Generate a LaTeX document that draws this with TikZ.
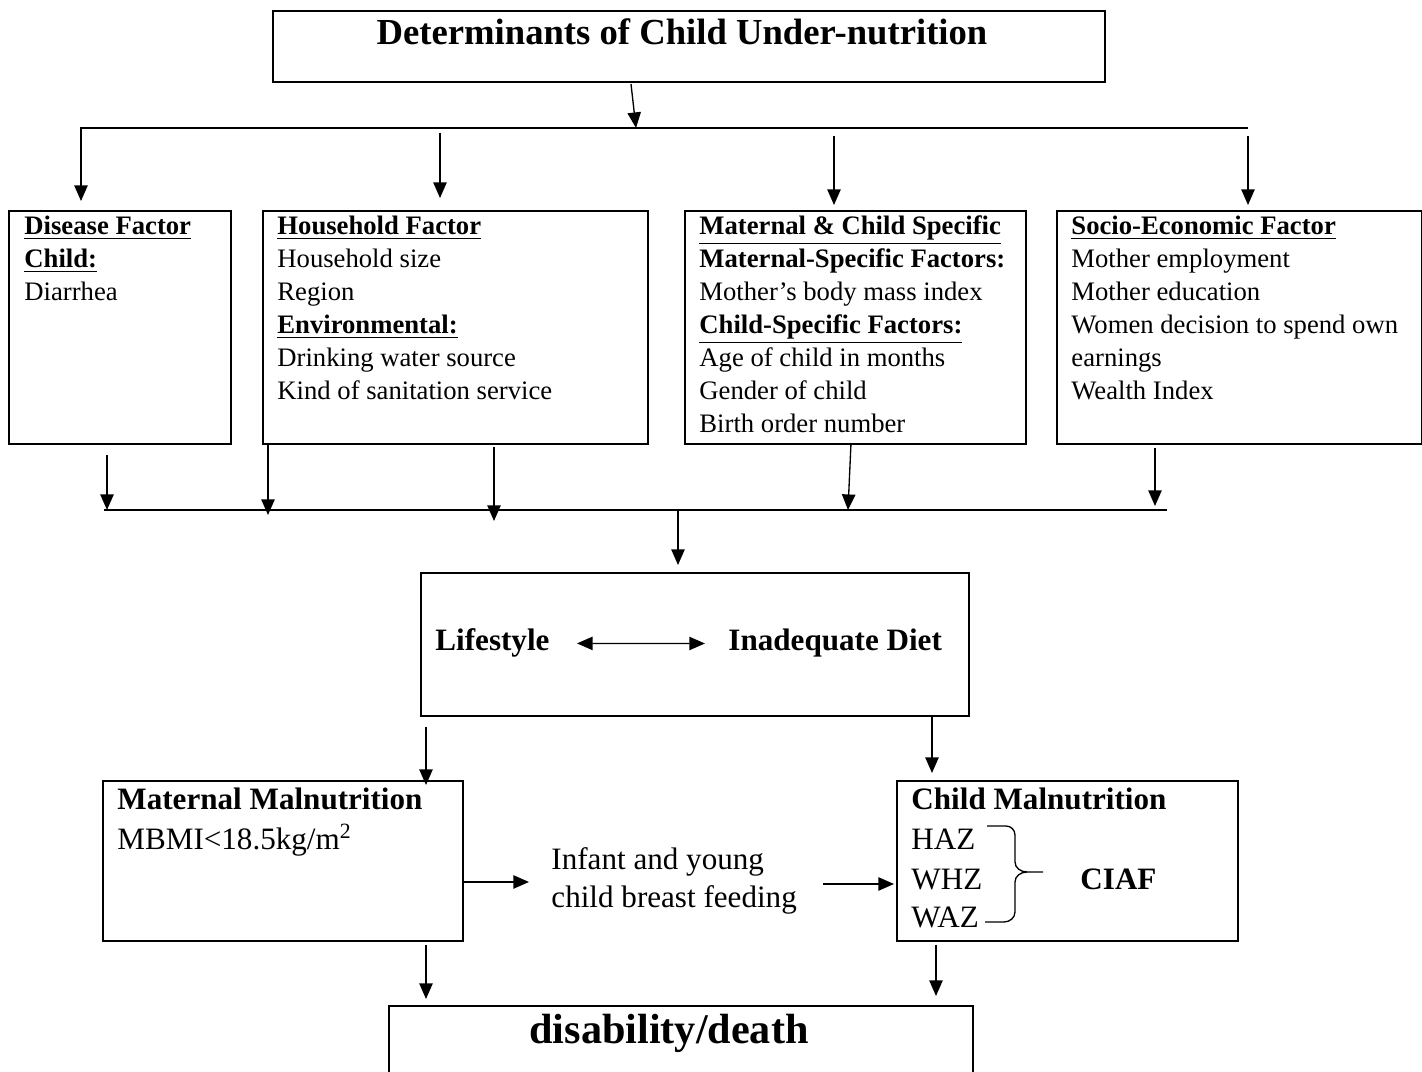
\documentclass[tikz,border=0pt]{standalone}
\usepackage{fontspec}
\setmainfont{Liberation Serif}
\usetikzlibrary{arrows.meta}
\begin{document}
\begin{tikzpicture}[x=0.45pt,y=-0.45pt,
  box/.style={draw, line width=0.9pt, inner sep=0pt, anchor=north west},
  sz/.style 2 args={minimum width=#1*0.45pt, minimum height=#2*0.45pt},
  arr/.style={-{Triangle[length=7pt,width=6pt]}, line width=0.6pt},
  dbl/.style={{Triangle[length=7pt,width=6pt]}-{Triangle[length=7pt,width=6pt]}, line width=0.6pt},
  ln/.style={line width=0.6pt},
  txt/.style={inner sep=0pt, anchor=base west, align=left, font=\fontsize{12}{14.85}\selectfont},
  hd/.style={inner sep=0pt, anchor=base west, font=\bfseries\fontsize{14}{17}\selectfont},
  rg/.style={inner sep=0pt, anchor=base west, align=left, font=\fontsize{14}{17.1}\selectfont},
  ]
\clip (0,0) rectangle (1422,1072);

% ---------- boxes ----------
\node[box, sz={832}{71}]  (title) at (272,10) {};
\node[box, sz={222}{233}] (dis)   at (8,210) {};
\node[box, sz={385}{233}] (hh)    at (262,210) {};
\node[box, sz={341}{233}] (mc)    at (684,210) {};
\node[box, sz={365}{233}] (se)    at (1056,210) {};
\node[box, sz={548}{143}] (life)  at (420,572) {};
\node[box, sz={360}{160}] (mm)    at (102,780) {};
\node[box, sz={341}{160}] (cm)    at (896,780) {};
\node[box, sz={584}{100}] (dd)    at (388,1005) {};

% ---------- texts (multi-line nodes anchored at the baseline of their last line) ----------
\node[inner sep=0pt, anchor=base, font=\bfseries\fontsize{16.5}{20}\selectfont] (titlet) at (682,45) {Determinants of Child Under-nutrition};

\node[txt] (dist) at (24,301) {\underline{\textbf{Disease Factor}}\\ \underline{\textbf{Child:}}\\ Diarrhea};
\node[txt] (hht) at (277,400) {\underline{\textbf{Household Factor}}\\ Household size\\ Region\\ \underline{\textbf{Environmental:}}\\ Drinking water source\\ Kind of sanitation service};
\node[txt] (mct) at (699,433) {\underline{\textbf{Maternal \& Child Specific}}\\ \textbf{Maternal-Specific Factors:}\\ Mother’s body mass index\\ \underline{\textbf{Child-Specific Factors:}}\\ Age of child in months\\ Gender of child\\ Birth order number};
\node[txt] (set) at (1071,400) {\underline{\textbf{Socio-Economic Factor}}\\ Mother employment\\ Mother education\\ Women decision to spend own\\ earnings\\ Wealth Index};

\node[hd] (ls) at (435,651) {Lifestyle};
\node[hd] (id) at (728,651) {Inadequate Diet};

\node[hd] (mmt) at (117,810) {Maternal Malnutrition};
\node[rg] (mmb) at (117,850) {MBMI<18.5kg/m\textsuperscript{2}};

\node[rg] (ibf) at (551,908) {Infant and young\\child breast feeding};

\node[hd] (cmt) at (911,810) {Child Malnutrition};
\node[rg] (haz) at (911,850) {HAZ};
\node[rg] (whz) at (911,890) {WHZ};
\node[rg] (waz) at (911,928) {WAZ};
\node[hd] (ciaf) at (1080,890) {CIAF};

\node[inner sep=0pt, anchor=base, font=\bfseries\fontsize{19}{22}\selectfont] (ddt) at (669,1044) {disability/death};

% ---------- connector coordinates ----------
\coordinate (t0) at (631,84);
\coordinate (t1) at (636,128);
\coordinate (busTL) at (80,128);
\coordinate (busTR) at (1248,128);
\coordinate (d1s) at (81,128);   \coordinate (d1e) at (81,201);
\coordinate (d2s) at (440,133);  \coordinate (d2e) at (440,198);
\coordinate (d3s) at (834,136);  \coordinate (d3e) at (834,205);
\coordinate (d4s) at (1248,136); \coordinate (d4e) at (1248,205);

\coordinate (u1s) at (107,455);  \coordinate (u1e) at (107,510);
\coordinate (u2s) at (268,443);  \coordinate (u2e) at (268,515);
\coordinate (u3s) at (494,447);  \coordinate (u3e) at (494,521);
\coordinate (u4s) at (851,443);  \coordinate (u4e) at (848,510);
\coordinate (u5s) at (1155,448); \coordinate (u5e) at (1155,506);
\coordinate (busBL) at (104,510);
\coordinate (busBR) at (1167,510);
\coordinate (m0) at (678,511);   \coordinate (m1) at (678,565);

\coordinate (l1s) at (426,727);  \coordinate (l1e) at (426,785);
\coordinate (l2s) at (932,715);  \coordinate (l2e) at (932,773);
\coordinate (h1s) at (463,882);  \coordinate (h1e) at (529,882);
\coordinate (h2s) at (823,884);  \coordinate (h2e) at (894,884);
\coordinate (b1s) at (426,945);  \coordinate (b1e) at (426,999);
\coordinate (b2s) at (936,945);  \coordinate (b2e) at (936,996);

% ---------- connectors ----------
\draw[arr] (t0) -- (t1);
\draw[ln] (busTL) -- (busTR);
\draw[arr] (d1s) -- (d1e);
\draw[arr] (d2s) -- (d2e);
\draw[arr] (d3s) -- (d3e);
\draw[arr] (d4s) -- (d4e);

\draw[arr] (u1s) -- (u1e);
\draw[arr] (u2s) -- (u2e);
\draw[arr] (u3s) -- (u3e);
\draw[arr] (u4s) -- (u4e);
\draw[arr] (u5s) -- (u5e);
\draw[ln] (busBL) -- (busBR);
\draw[arr] (m0) -- (m1);

\draw[dbl, shorten <=12.2pt, shorten >=10.4pt] (ls.east) -- (id.west);

\draw[arr] (l1s) -- (l1e);
\draw[arr] (l2s) -- (l2e);
\draw[arr] (h1s) -- (h1e);
\draw[arr] (h2s) -- (h2e);
\draw[arr] (b1s) -- (b1e);
\draw[arr] (b2s) -- (b2e);

% ---------- brace ----------
\draw[ln] (987,826) -- (1006,826) to[out=0,in=90] (1015,835) -- (1015,862)
  to[out=270,in=180] (1027,872) -- (1043,872);
\draw[ln] (1027,872) to[out=180,in=90] (1015,882) -- (1015,912)
  to[out=270,in=0] (1004,922) -- (985,922);
\end{tikzpicture}
\end{document}
